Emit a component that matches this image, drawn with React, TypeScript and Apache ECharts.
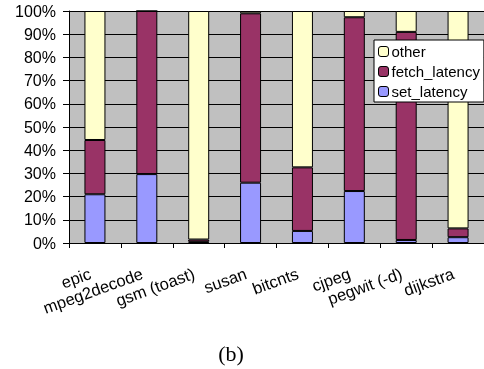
import React, { useEffect, useRef } from "react";
import * as echarts from "echarts";

const categories = ["epic", "mpeg2decode", "gsm (toast)", "susan", "bitcnts", "cjpeg", "pegwit (-d)", "dijkstra"];
const setLatency = [21, 29.7, 0.5, 26, 5.2, 22.4, 1.3, 2.5];
const fetchLatency = [23.4, 70.3, 1.0, 73, 27.4, 74.9, 89.7, 3.8];
const other = [55.6, 0, 98.5, 1, 67.4, 2.7, 9, 93.7];
const yTicks = [0, 10, 20, 30, 40, 50, 60, 70, 80, 90, 100];
const caption = "(b)";

export default function App() {
  const ref = useRef<HTMLDivElement>(null);
  useEffect(() => {
    if (!ref.current) return;
    const chart = echarts.init(ref.current, null, { renderer: "svg" });
    const font = "Liberation Sans";
    const barStyle = (color: string) => ({ color, borderColor: "#000", borderWidth: 1 });
    chart.setOption({
      animation: false,
      grid: {
        left: 69,
        top: 11,
        bottom: 126,
        right: -3,
        show: true,
        backgroundColor: "#C0C0C0",
        borderWidth: 0,
      },
      legend: {
        orient: "vertical",
        left: 374,
        top: 40,
        data: ["other", "fetch_latency", "set_latency"],
        backgroundColor: "#fff",
        borderColor: "#000",
        borderWidth: 1,
        padding: [4, 4, 3, 4],
        itemWidth: 10,
        itemHeight: 10,
        itemGap: 5,
        textStyle: { fontFamily: font, fontSize: 15, color: "#000", padding: [0, 0, 0, -2] },
        itemStyle: { borderColor: "#000", borderWidth: 1 },
      },
      xAxis: {
        type: "category",
        data: categories,
        axisLine: { show: true, lineStyle: { color: "#000", width: 1 } },
        axisTick: { show: true, length: 5, lineStyle: { color: "#000" } },
        axisLabel: {
          interval: 0,
          rotate: 20,
          margin: 28,
          padding: [0, 5, 0, 0],
          fontFamily: font,
          fontSize: 16.5,
          color: "#000",
        },
      },
      yAxis: {
        type: "value",
        min: 0,
        max: 100,
        interval: 10,
        axisLine: { show: true, lineStyle: { color: "#000", width: 1 } },
        axisTick: { show: true, length: 6, lineStyle: { color: "#000" } },
        axisLabel: {
          margin: 13,
          fontFamily: font,
          fontSize: 16,
          color: "#000",
          formatter: (v: number) => (yTicks.includes(v) ? v + "%" : ""),
        },
        splitLine: { show: true, lineStyle: { color: "#000", width: 1 } },
      },
      series: [
        { name: "set_latency", type: "bar", stack: "s", data: setLatency, barWidth: 21, itemStyle: barStyle("#9999FF") },
        { name: "fetch_latency", type: "bar", stack: "s", data: fetchLatency, barWidth: 21, itemStyle: barStyle("#993366") },
        { name: "other", type: "bar", stack: "s", data: other, barWidth: 21, itemStyle: barStyle("#FFFFCC") },
      ],
      graphic: [
        {
          type: "text",
          x: 231,
          y: 353,
          style: {
            text: caption,
            fontFamily: "Liberation Serif",
            fontSize: 22,
            fill: "#000",
            align: "center",
            verticalAlign: "middle",
          },
        },
      ],
    });
    return () => chart.dispose();
  }, []);
  return <div ref={ref} style={{ position: "fixed", left: 0, top: 0, width: 484, height: 369 }} />;
}
